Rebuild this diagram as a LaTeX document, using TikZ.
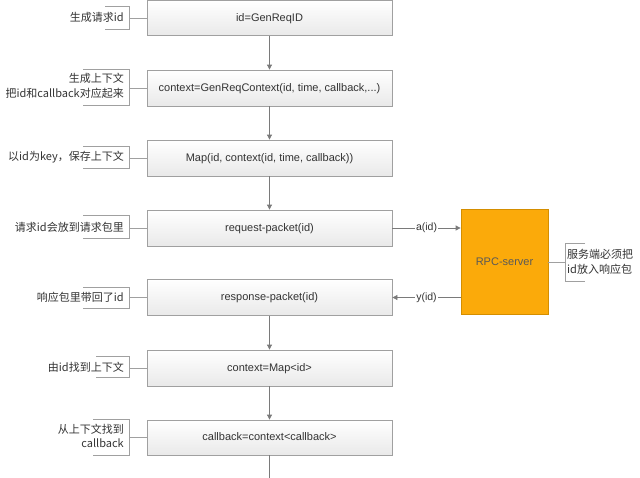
\documentclass[tikz,border=0pt]{standalone}
\usepackage{fontspec}
\setmainfont{Liberation Sans}
\newfontfamily\cjk{Noto Sans CJK SC}
\usetikzlibrary{arrows.meta}
\definecolor{boxline}{HTML}{A0A0A0}
\definecolor{boxbot}{HTML}{E9E9E9}
\definecolor{txt}{HTML}{333333}
\definecolor{linec}{HTML}{7A7A7A}
\definecolor{rpcfill}{HTML}{FBAA0A}
\definecolor{rpcline}{HTML}{D48E00}
\begin{document}
\begin{tikzpicture}[x=1pt,y=-1pt,
  stepbox/.style={draw=boxline, line width=0.8pt, top color=white, bottom color=boxbot,
    minimum width=245pt, minimum height=36pt, inner sep=0pt, text height=8pt, text depth=2pt,
    font=\fontsize{11}{13}\selectfont, text=txt},
  note/.style={font=\cjk\fontsize{11}{14.5}\selectfont, align=right, anchor=east,
    inner sep=0pt, text=txt},
  rnote/.style={font=\cjk\fontsize{11}{14.5}\selectfont, align=left, anchor=west,
    inner sep=0pt, text=txt},
  flow/.style={draw=linec, line width=0.8pt, -{Triangle[width=5pt,length=5pt]}},
  plain/.style={draw=linec, line width=0.8pt},
  brk/.style={draw=boxline, line width=0.8pt},
  lab/.style={fill=white, inner sep=1pt, font=\fontsize{10.5}{12}\selectfont, text=txt}]
\useasboundingbox (0,0) rectangle (640,477);
\fill[white] (0,0) rectangle (640,477);

% main boxes
\node[stepbox, minimum height=35pt] (b1) at (269.5,18) {id=GenReqID};
\node[stepbox] (b2) at (269.5,88) {context=GenReqContext(id, time, callback,...)};
\node[stepbox] (b3) at (269.5,158) {Map(id, context(id, time, callback))};
\node[stepbox] (b4) at (269.5,228) {request-packet(id)};
\node[stepbox] (b5) at (269.5,297.5) {response-packet(id)};
\node[stepbox] (b6) at (269.5,368) {context=Map<id>};
\node[stepbox, minimum height=35pt] (b7) at (269.5,437.5) {callback=context<callback>};
\coordinate (bend) at (269.5,478);

% flow arrows
\draw[flow] (b1) -- (b2);
\draw[flow] (b2) -- (b3);
\draw[flow] (b3) -- (b4);
\draw[flow] (b5) -- (b6);
\draw[flow] (b6) -- (b7);
\draw[plain] (b7) -- (bend);

% RPC server
\node[draw=rpcline, line width=0.8pt, fill=rpcfill, minimum width=87pt, minimum height=105pt,
  inner sep=0pt, font=\fontsize{11}{13}\selectfont, text={black!65}] (rpc) at (504.5,261.5) {RPC-server};
\draw[flow] (b4.east) -- node[lab] {a(id)} (rpc.west |- b4.east);
\draw[flow] (rpc.west |- b5.east) -- node[lab] {y(id)} (b5.east);

% left annotations
\node[note] (n1) at (124,17) {生成请求id};
\node[note] (n2) at (124,86) {生成上下文\\把id和callback对应起来};
\node[note] (n3) at (124,157) {以id为key，保存上下文};
\node[note] (n4) at (124,227) {请求id会放到请求包里};
\node[note] (n5) at (124,297) {响应包里带回了id};
\node[note] (n6) at (124,367) {由id找到上下文};
\node[note] (n7) at (124,436) {从上下文找到\\callback};

\foreach \t/\a/\b in {105/6/29, 83/69/105, 83/146/168, 83/215/238,
                      83/287/308, 96/356/377, 93/419/455}{
  \draw[brk] (\t,\a) -- (129,\a) -- (129,\b) -- (\t,\b);
}
\foreach \i/\c in {1/18, 2/88, 3/158, 4/228, 5/297.5, 6/368, 7/437.5}{
  \coordinate (k\i) at (129,\c);
  \draw[brk] (k\i) -- (b\i.west |- k\i);
}

% right annotation
\node[rnote] (nr) at (567,262) {服务端必须把\\id放入响应包};
\coordinate (kr) at (565,262);
\draw[brk] (585,243) -- (565,243) -- (565,281) -- (585,281);
\draw[brk] (rpc.east |- kr) -- (kr);
\end{tikzpicture}
\end{document}
